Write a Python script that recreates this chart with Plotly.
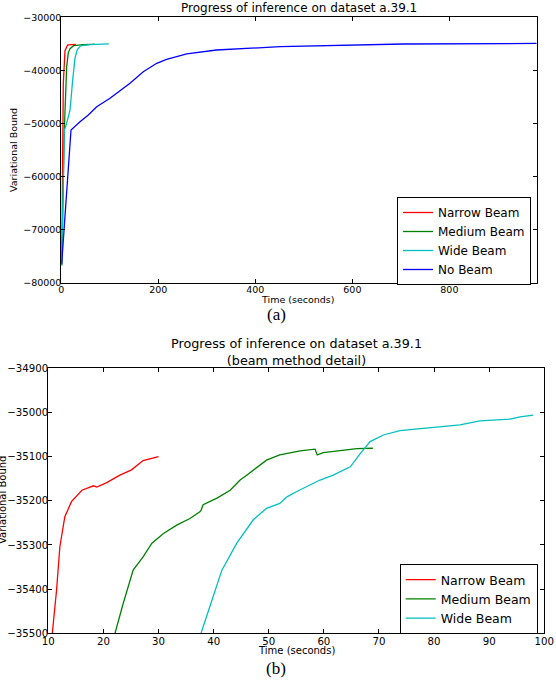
import plotly.graph_objects as go

W, H = 556, 682

# ---------------- data ----------------
series_names = ["Narrow Beam", "Medium Beam", "Wide Beam", "No Beam"]
series_colors = ["#FF0000", "#008000", "#00BFBF", "#0000FF"]

narrow_t = [0.8, 2.5, 4.1, 7.6, 10.73, 11.5, 12.1, 13.0, 14.2, 16.1, 18.2, 18.8,
            20.6, 23.0, 25.1, 27.2, 28.5, 30.0]
narrow_v = [-76600, -55000, -42500, -36300, -35500, -35402, -35304, -35236, -35202,
            -35176, -35166, -35169, -35159, -35142, -35130, -35109, -35104, -35100]

medium_t = [0.8, 6.2, 11.1, 14.4, 18.0, 22.1, 23.6, 25.4, 27.2, 28.8, 30.9, 33.3,
            35.7, 37.5, 37.7, 38.1, 40.6, 43.0, 44.8, 46.0, 49.6, 52.0, 55.7,
            58.4, 58.8, 59.9, 62.9, 66.0, 68.9]
medium_v = [-76700, -51200, -39300, -36700, -35900, -35500, -35432, -35357, -35327,
            -35296, -35274, -35255, -35240, -35225, -35222, -35209, -35194, -35176,
            -35153, -35142, -35108, -35096, -35087, -35083, -35096, -35091, -35087,
            -35082, -35081]

wide_t = [0.8, 6.2, 10.0, 18.0, 23.5, 28.2, 33.0, 37.7, 39.3, 41.5, 44.2, 47.2,
          49.6, 52.0, 53.3, 55.1, 59.3, 61.7, 64.8, 66.6, 68.4, 70.8, 73.8, 77.5,
          81.1, 84.7, 88.3, 90.8, 93.8, 95.6, 98.0]
wide_v = [-76800, -51300, -50300, -47500, -41800, -37700, -36100, -35500, -35440,
          -35357, -35296, -35243, -35217, -35206, -35191, -35179, -35153, -35142,
          -35123, -35093, -35066, -35051, -35041, -35036, -35032, -35028, -35019,
          -35017, -35015, -35010, -35006]

nobeam_t = [0.8, 20, 38.6, 55.7, 73, 100.4, 141.6, 169, 196.7, 217, 258.6, 320,
            451, 602, 705, 980]
nobeam_v = [-76400, -51230, -49670, -48400, -46840, -45260, -42430, -40250, -38670,
            -37910, -36910, -36160, -35540, -35220, -35030, -34920]

top_xticks = [0, 200, 400, 600, 800]
top_yticks = [-80000, -70000, -60000, -50000, -40000, -30000]
top_yticktext = ["\u221280000", "\u221270000", "\u221260000", "\u221250000",
                 "\u221240000", "\u221230000"]
bot_xticks = [10, 20, 30, 40, 50, 60, 70, 80, 90, 100]
bot_yticks = [-35500, -35400, -35300, -35200, -35100, -35000, -34900]
bot_yticktext = ["\u221235500", "\u221235400", "\u221235300", "\u221235200",
                 "\u221235100", "\u221235000", "\u221234900"]

top_title = "Progress of inference on dataset a.39.1"
bot_title = "Progress of inference on dataset a.39.1<br>(beam method detail)"
x_label = "Time (seconds)"
y_label = "Variational Bound"

# ---------------- figure ----------------
FONT = "DejaVu Sans"
all_t = [narrow_t, medium_t, wide_t, nobeam_t]
all_v = [narrow_v, medium_v, wide_v, nobeam_v]

fig = go.Figure()
for name, col, t, v in zip(series_names, series_colors, all_t, all_v):
    fig.add_trace(go.Scatter(x=t, y=v, mode="lines", name=name,
                             line=dict(color=col, width=1.3),
                             xaxis="x", yaxis="y", legend="legend"))
for name, col, t, v in zip(series_names[:3], series_colors[:3], all_t[:3], all_v[:3]):
    fig.add_trace(go.Scatter(x=t, y=v, mode="lines", name=name,
                             line=dict(color=col, width=1.3),
                             xaxis="x2", yaxis="y2", legend="legend2"))


def px(x):
    return x / W


def py(y):
    return 1 - y / H


axis_common = dict(showline=True, linecolor="black", linewidth=1, mirror="ticks",
                   ticks="inside", ticklen=4, tickcolor="black", tickwidth=1,
                   showgrid=False, zeroline=False, automargin=False)

fig.update_layout(
    width=W, height=H,
    margin=dict(l=0, r=0, t=0, b=0, pad=0, autoexpand=False),
    paper_bgcolor="white", plot_bgcolor="white",
    font=dict(family=FONT, color="black"),
    xaxis=dict(domain=[px(61.3), px(536.7)], anchor="y", range=[0, 980],
               tickvals=top_xticks, ticktext=[str(v) for v in top_xticks],
               tickfont=dict(size=9.5), ticklabelstandoff=-2, **axis_common),
    yaxis=dict(domain=[py(282.7), py(17.3)], anchor="x", range=[-80000, -30000],
               tickvals=top_yticks, ticktext=top_yticktext,
               tickfont=dict(size=9.5), ticklabelstandoff=-3, **axis_common),
    xaxis2=dict(domain=[px(48.3), px(544.3)], anchor="y2", range=[10, 100],
                tickvals=bot_xticks, ticktext=[str(v) for v in bot_xticks],
                tickfont=dict(size=10.2), ticklabelstandoff=-2, **axis_common),
    yaxis2=dict(domain=[py(633.3), py(368.3)], anchor="x2", range=[-35500, -34900],
                tickvals=bot_yticks, ticktext=bot_yticktext,
                tickfont=dict(size=10.2), ticklabelstandoff=-3, **axis_common),
    legend=dict(x=px(531), y=py(197), xanchor="right", yanchor="top",
                bgcolor="white", bordercolor="black", borderwidth=1,
                font=dict(size=12, family=FONT), tracegroupgap=0, itemwidth=30),
    legend2=dict(x=px(537.7), y=py(564), xanchor="right", yanchor="top",
                 bgcolor="white", bordercolor="black", borderwidth=1,
                 font=dict(size=12.5, family=FONT), tracegroupgap=0, itemwidth=30),
    showlegend=True,
)

ann = []
ann.append(dict(text=top_title, x=px(299), y=py(8), font=dict(size=12)))
ann.append(dict(text=x_label, x=px(298), y=py(299), font=dict(size=9.5)))
ann.append(dict(text=y_label, x=px(13), y=py(150), font=dict(size=9.5), textangle=-90))
ann.append(dict(text="(a)", x=px(276), y=py(314),
                font=dict(size=17, family="Liberation Serif")))
ann.append(dict(text=bot_title, x=px(296), y=py(352), font=dict(size=12.75)))
ann.append(dict(text=x_label, x=px(296), y=py(650), font=dict(size=10)))
ann.append(dict(text=y_label, x=px(2), y=py(500), font=dict(size=10), textangle=-90))
ann.append(dict(text="(b)", x=px(276), y=py(668),
                font=dict(size=17, family="Liberation Serif")))
for a in ann:
    a.update(xref="paper", yref="paper", showarrow=False,
             xanchor="center", yanchor="middle")
    a["font"].setdefault("family", FONT)
    a["font"]["color"] = "black"
fig.update_layout(annotations=ann)

fig.write_html("out.html",
               config={"displayModeBar": False},
               post_script="document.body.style.margin='0px';")
